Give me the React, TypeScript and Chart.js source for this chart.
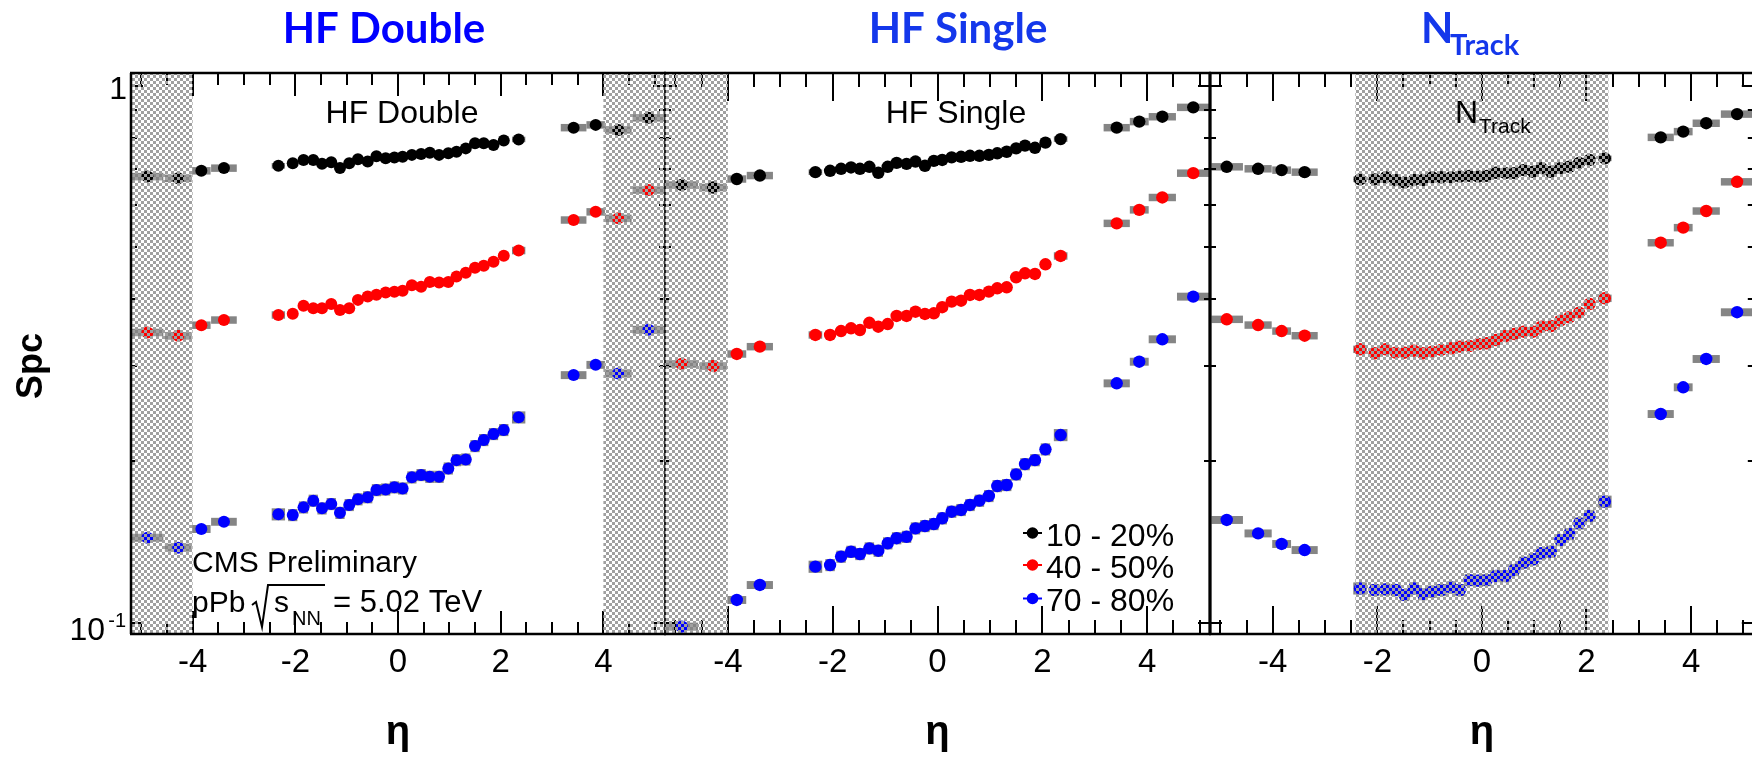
import React, { useEffect, useRef } from 'react';
import { Chart, registerables } from 'chart.js';

Chart.register(...registerables);

// ---------------- data ----------------
const CENTRAL_ETA = [-2.33, -2.05, -1.84, -1.65, -1.48, -1.30, -1.13, -0.95, -0.78, -0.59, -0.42, -0.24, -0.07, 0.09, 0.27, 0.45, 0.62, 0.80, 0.98, 1.14, 1.32, 1.50, 1.67, 1.86, 2.06, 2.35];
const OUTER_ETA = [-4.88, -4.28, -3.83, -3.39, 3.42, 3.85, 4.29, 4.88];
const CENTRAL_BIN_HALF_WIDTH = [0.13, 0.09, 0.09, 0.09, 0.09, 0.09, 0.09, 0.09, 0.09, 0.09, 0.09, 0.09, 0.09, 0.09, 0.09, 0.09, 0.09, 0.09, 0.09, 0.09, 0.09, 0.09, 0.09, 0.09, 0.09, 0.13];
const OUTER_BIN_HALF_WIDTH = [0.31, 0.26, 0.18, 0.25, 0.25, 0.18, 0.26, 0.31];

const CENTRALITY_LABELS = ['10 - 20%', '40 - 50%', '70 - 80%'];
const SYS_CENTRAL = [0.012, 0.016, 0.026];
const SYS_OUTER = [0.016, 0.016, 0.017];

const X_TICK_VALUES = [-4, -2, 0, 2, 4];
const X_FRAME_TICKS = [-5, -4.5, -4, -3.5, -3, -2.5, -2, -1.5, -1, -0.5, 0, 0.5, 1, 1.5, 2, 2.5, 3, 3.5, 4, 4.5, 5];
const Y_TICK_VALUES = [0.1, 1];
const Y_FRAME_TICKS = [0.1, 0.2, 0.3, 0.4, 0.5, 0.6, 0.7, 0.8, 0.9, 1];

// HF Double
const HFD_10_20_C = [0.709, 0.717, 0.727, 0.727, 0.715, 0.720, 0.702, 0.717, 0.729, 0.722, 0.739, 0.732, 0.735, 0.737, 0.743, 0.746, 0.750, 0.743, 0.748, 0.753, 0.764, 0.781, 0.781, 0.775, 0.790, 0.794];
const HFD_10_20_O = [0.677, 0.672, 0.694, 0.702, 0.835, 0.845, 0.827, 0.871];
const HFD_40_50_C = [0.374, 0.376, 0.389, 0.385, 0.385, 0.392, 0.382, 0.385, 0.399, 0.405, 0.408, 0.412, 0.413, 0.415, 0.425, 0.422, 0.431, 0.430, 0.431, 0.441, 0.448, 0.458, 0.462, 0.470, 0.482, 0.493];
const HFD_40_50_O = [0.347, 0.342, 0.358, 0.366, 0.562, 0.582, 0.566, 0.639];
const HFD_70_80_C = [0.1591, 0.1586, 0.1639, 0.1687, 0.1632, 0.1663, 0.1601, 0.1656, 0.1697, 0.1712, 0.1765, 0.1770, 0.1786, 0.1778, 0.1864, 0.1883, 0.1869, 0.1869, 0.1937, 0.2007, 0.2013, 0.2132, 0.2188, 0.2245, 0.2284, 0.2411];
const HFD_70_80_O = [0.1439, 0.1379, 0.1494, 0.1541, 0.289, 0.302, 0.291, 0.351];

// HF Single
const HFS_10_20_C = [0.690, 0.694, 0.700, 0.704, 0.700, 0.706, 0.688, 0.706, 0.718, 0.715, 0.722, 0.709, 0.724, 0.727, 0.735, 0.737, 0.740, 0.740, 0.743, 0.748, 0.753, 0.764, 0.773, 0.766, 0.783, 0.795];
const HFS_10_20_O = [0.653, 0.646, 0.670, 0.680, 0.835, 0.857, 0.875, 0.911];
const HFS_40_50_C = [0.3433, 0.3433, 0.3491, 0.3532, 0.3506, 0.3617, 0.3556, 0.3597, 0.3724, 0.3724, 0.3793, 0.3756, 0.3767, 0.3866, 0.3960, 0.3976, 0.4075, 0.4075, 0.4133, 0.4193, 0.4211, 0.4396, 0.4472, 0.4459, 0.4648, 0.4817];
const HFS_40_50_O = [0.3031, 0.3005, 0.3164, 0.3265, 0.554, 0.587, 0.619, 0.687];
const HFS_70_80_C = [0.1271, 0.1280, 0.1327, 0.1355, 0.1342, 0.1375, 0.1361, 0.1405, 0.1436, 0.1445, 0.1498, 0.1513, 0.1526, 0.1564, 0.1609, 0.1621, 0.1656, 0.1687, 0.1721, 0.1796, 0.1804, 0.1888, 0.1973, 0.2007, 0.2102, 0.2235];
const HFS_70_80_O = [0.0983, null, 0.1102, 0.1175, 0.2790, 0.3061, 0.3370, 0.4046];

// N_Track
const NTR_10_20_C = [0.669, 0.669, 0.675, 0.667, 0.660, 0.667, 0.667, 0.675, 0.675, 0.675, 0.677, 0.679, 0.677, 0.679, 0.688, 0.687, 0.687, 0.696, 0.691, 0.702, 0.691, 0.702, 0.706, 0.718, 0.727, 0.732];
const NTR_10_20_O = [0.706, 0.700, 0.696, 0.690, 0.801, 0.821, 0.851, 0.885];
const NTR_40_50_C = [0.3228, 0.3173, 0.3228, 0.3181, 0.3181, 0.3209, 0.3173, 0.3195, 0.3219, 0.3242, 0.3265, 0.3274, 0.3302, 0.3312, 0.3359, 0.3417, 0.3447, 0.3481, 0.3481, 0.3556, 0.3567, 0.3649, 0.3703, 0.3776, 0.3920, 0.4017];
const NTR_40_50_O = [0.3671, 0.3582, 0.3491, 0.3422, 0.5098, 0.5439, 0.5841, 0.662];
const NTR_70_80_C = [0.1158, 0.1150, 0.1153, 0.1150, 0.1126, 0.1158, 0.1130, 0.1142, 0.1150, 0.1163, 0.1150, 0.1200, 0.1197, 0.1200, 0.1221, 0.1221, 0.1253, 0.1293, 0.1312, 0.1346, 0.1355, 0.1425, 0.1462, 0.1530, 0.1580, 0.1680];
const NTR_70_80_O = [0.1553, 0.1466, 0.1401, 0.1365, 0.2446, 0.2743, 0.3097, 0.3784];

// ---------------- styling / layout ----------------
const CW = 1760;
const CH = 757;
const FRAME_TOP = 73;
const X_AXIS_HEIGHT = 123;
const Y_MIN = 0.09523;
const Y_MAX = 1.0555;
const SERIES_COLORS = ['#000000', '#ff0000', '#0000ff'];
const SYS_BOX_COLOR = '#858585';
const HATCH_COLOR = 'rgb(160,160,160)';
const ROOT_FONT = '"Liberation Sans", Arial, sans-serif';
const TITLE_FONT = 'Lato, "Liberation Sans", sans-serif';

Chart.defaults.font.family = ROOT_FONT;
Chart.defaults.color = '#000';

function buildPoints(central, outer, sysC, sysO) {
  const pts = [];
  OUTER_ETA.forEach((eta, i) => {
    if (outer[i] != null) pts.push({ x: eta, y: outer[i], hw: OUTER_BIN_HALF_WIDTH[i], sys: sysO });
  });
  CENTRAL_ETA.forEach((eta, i) => {
    pts.push({ x: eta, y: central[i], hw: CENTRAL_BIN_HALF_WIDTH[i], sys: sysC });
  });
  return pts;
}

function text(ctx, s, x, y, font, color = '#000', align = 'left') {
  ctx.font = font;
  ctx.fillStyle = color;
  ctx.textAlign = align;
  ctx.textBaseline = 'alphabetic';
  ctx.fillText(s, x, y);
}

let hatchCanvas = null;
function getHatch(ctx) {
  if (!hatchCanvas) {
    hatchCanvas = document.createElement('canvas');
    hatchCanvas.width = 6;
    hatchCanvas.height = 6;
    const g = hatchCanvas.getContext('2d');
    g.fillStyle = HATCH_COLOR;
    g.fillRect(0, 0, 3, 3);
    g.fillRect(3, 3, 3, 3);
  }
  return ctx.createPattern(hatchCanvas, 'repeat');
}

function drawPanel1Text(ctx, chart) {
  const ys = chart.scales.y;
  const a = chart.chartArea;
  const y1 = ys.getPixelForValue(Y_TICK_VALUES[1]);
  const y01 = ys.getPixelForValue(Y_TICK_VALUES[0]);
  text(ctx, '1', a.left - 4, y1 + 13, `32px ${ROOT_FONT}`, '#000', 'right');
  text(ctx, '10', a.left - 26, y01 + 17, `32px ${ROOT_FONT}`, '#000', 'right');
  text(ctx, '-1', a.left - 5, y01 + 4, `20px ${ROOT_FONT}`, '#000', 'right');

  text(ctx, 'HF Double', 384, 43, `bold 42px ${TITLE_FONT}`, '#0000ff', 'center');
  text(ctx, 'HF Double', 402, 123, `32px ${ROOT_FONT}`, '#000', 'center');
  text(ctx, 'CMS Preliminary', 192, 572, `30px ${ROOT_FONT}`);
  text(ctx, 'pPb', 192, 612, `30px ${ROOT_FONT}`);
  ctx.save();
  ctx.strokeStyle = '#000';
  ctx.lineWidth = 2;
  ctx.beginPath();
  ctx.moveTo(252, 605);
  ctx.lineTo(256, 602);
  ctx.lineTo(262, 627);
  ctx.lineTo(268, 585);
  ctx.lineTo(325, 585);
  ctx.stroke();
  ctx.restore();
  text(ctx, 's', 274, 612, `30px ${ROOT_FONT}`);
  text(ctx, 'NN', 292, 625, `20px ${ROOT_FONT}`);
  text(ctx, '= 5.02 TeV', 333, 612, `31px ${ROOT_FONT}`);
  ctx.save();
  ctx.translate(42, 366);
  ctx.rotate(-Math.PI / 2);
  text(ctx, 'Spc', 0, 0, `bold 36px ${ROOT_FONT}`, '#000', 'center');
  ctx.restore();
}

function drawPanel2Text(ctx) {
  text(ctx, 'HF Single', 958, 43, `bold 42px ${TITLE_FONT}`, 'rgb(20,55,235)', 'center');
  text(ctx, 'HF Single', 956, 123, `32px ${ROOT_FONT}`, '#000', 'center');
  const rows = [533, 565, 598.5];
  rows.forEach((cy, k) => {
    ctx.save();
    ctx.strokeStyle = SERIES_COLORS[k];
    ctx.fillStyle = SERIES_COLORS[k];
    ctx.lineWidth = 2;
    ctx.beginPath();
    ctx.moveTo(1023, cy);
    ctx.lineTo(1042, cy);
    ctx.stroke();
    ctx.beginPath();
    ctx.arc(1032.5, cy, 5.8, 0, Math.PI * 2);
    ctx.fill();
    ctx.restore();
    text(ctx, CENTRALITY_LABELS[k], 1046, cy + 12.5, `32px ${ROOT_FONT}`);
  });
}

function drawPanel3Text(ctx) {
  text(ctx, 'N', 1421, 43, `bold 42px ${TITLE_FONT}`, 'rgb(20,55,235)');
  text(ctx, 'Track', 1450, 55, `bold 29px ${TITLE_FONT}`, 'rgb(20,55,235)');
  text(ctx, 'N', 1455, 123, `32px ${ROOT_FONT}`);
  text(ctx, 'Track', 1479, 133, `21px ${ROOT_FONT}`);
}

const PANELS = [
  {
    key: 'hfd', padLeft: 0, padRight: CW - 665, yLabels: true, markerRadius: 6,
    tickMajor: 23, tickMinor: 12,
    bands: [[-5.2, -4.0], [4.0, 5.2]],
    central: [HFD_10_20_C, HFD_40_50_C, HFD_70_80_C],
    outer: [HFD_10_20_O, HFD_40_50_O, HFD_70_80_O],
    frames: { left: { w: 2.5, under: false }, right: { w: 1.3, under: true } },
    drawText: drawPanel1Text,
  },
  {
    key: 'hfs', padLeft: 665, padRight: CW - 1210, yLabels: false, markerRadius: 6.2,
    tickMajor: 28, tickMinor: 14,
    bands: [[-5.2, -4.0]],
    central: [HFS_10_20_C, HFS_40_50_C, HFS_70_80_C],
    outer: [HFS_10_20_O, HFS_40_50_O, HFS_70_80_O],
    frames: { left: { w: 1.3, under: true }, right: { w: 2.5, under: false } },
    drawText: drawPanel2Text,
  },
  {
    key: 'ntr', padLeft: 1210, padRight: CW - 1754, yLabels: false, markerRadius: 6.2,
    tickMajor: 28, tickMinor: 14,
    bands: [[-2.42, 2.42]],
    central: [NTR_10_20_C, NTR_40_50_C, NTR_70_80_C],
    outer: [NTR_10_20_O, NTR_40_50_O, NTR_70_80_O],
    frames: { left: { w: 3, under: false }, right: { w: 2.5, under: false } },
    drawText: drawPanel3Text,
  },
];

function line(ctx, x1, y1, x2, y2) {
  ctx.beginPath();
  ctx.moveTo(x1, y1);
  ctx.lineTo(x2, y2);
  ctx.stroke();
}

function panelPlugin(p) {
  return {
    id: 'decor_' + p.key,
    beforeDatasetsDraw(chart) {
      const { ctx, chartArea: a, scales } = chart;
      const xs = scales.x;
      const ys = scales.y;
      ctx.save();
      ctx.beginPath();
      ctx.rect(a.left, a.top, a.right - a.left, a.bottom - a.top);
      ctx.clip();
      ctx.fillStyle = SYS_BOX_COLOR;
      chart.data.datasets.forEach((ds) => {
        ds.data.forEach((pt) => {
          const x1 = xs.getPixelForValue(pt.x - pt.hw);
          const x2 = xs.getPixelForValue(pt.x + pt.hw);
          const y1 = ys.getPixelForValue(pt.y * (1 + pt.sys));
          const y2 = ys.getPixelForValue(pt.y * (1 - pt.sys));
          ctx.fillRect(x1, y1, x2 - x1, y2 - y1);
        });
      });
      ctx.restore();
    },
    afterDatasetsDraw(chart) {
      const { ctx, chartArea: a, scales } = chart;
      const xs = scales.x;
      const ys = scales.y;
      ctx.save();
      ctx.strokeStyle = '#000';
      const vFrame = (side) => {
        const f = p.frames[side];
        ctx.lineWidth = f.w;
        const xx = side === 'left' ? a.left : a.right;
        line(ctx, xx, a.top, xx, a.bottom);
      };
      ['left', 'right'].forEach((s) => { if (p.frames[s].under) vFrame(s); });
      ctx.lineWidth = 2;
      X_FRAME_TICKS.forEach((v) => {
        const px = Math.round(xs.getPixelForValue(v));
        const L = v % 2 === 0 ? p.tickMajor : p.tickMinor;
        line(ctx, px, a.bottom, px, a.bottom - L);
        line(ctx, px, a.top, px, a.top + L);
      });
      Y_FRAME_TICKS.forEach((v) => {
        const py = Math.round(ys.getPixelForValue(v));
        const L = v === 0.1 || v === 1 ? 12 : 6;
        line(ctx, a.left, py, a.left + L, py);
        line(ctx, a.right, py, a.right - L, py);
      });
      ctx.save();
      ctx.beginPath();
      ctx.rect(a.left, a.top, a.right - a.left, a.bottom - a.top);
      ctx.clip();
      ctx.fillStyle = getHatch(ctx);
      p.bands.forEach(([b0, b1]) => {
        const x1 = xs.getPixelForValue(b0);
        const x2 = xs.getPixelForValue(b1);
        ctx.fillRect(x1, a.top, x2 - x1, a.bottom - a.top);
      });
      ctx.restore();
      ctx.strokeStyle = '#000';
      ctx.lineWidth = 2.5;
      line(ctx, a.left - 1, a.top, a.right + 1, a.top);
      line(ctx, a.left - 1, a.bottom, a.right + 1, a.bottom);
      ['left', 'right'].forEach((s) => { if (!p.frames[s].under) vFrame(s); });
      p.drawText(ctx, chart);
      ctx.restore();
    },
  };
}

function makeConfig(p) {
  const datasets = SERIES_COLORS.map((color, k) => ({
    label: CENTRALITY_LABELS[k],
    data: buildPoints(p.central[k], p.outer[k], SYS_CENTRAL[k], SYS_OUTER[k]),
    backgroundColor: color,
    borderColor: color,
    pointRadius: p.markerRadius,
    pointHoverRadius: p.markerRadius,
    pointBorderWidth: 0,
    showLine: false,
  }));
  return {
    type: 'scatter',
    data: { datasets },
    options: {
      animation: false,
      responsive: false,
      maintainAspectRatio: false,
      devicePixelRatio: 1,
      events: [],
      layout: { padding: { left: p.padLeft, right: p.padRight, top: FRAME_TOP, bottom: 0 } },
      plugins: { legend: { display: false }, tooltip: { enabled: false } },
      scales: {
        x: {
          type: 'linear',
          min: -5.2,
          max: 5.2,
          grid: { display: false, drawTicks: false },
          border: { display: false },
          ticks: {
            color: '#000',
            font: { size: 33 },
            padding: 9,
            autoSkip: false,
            maxRotation: 0,
            callback: (v) => String(v),
          },
          title: {
            display: true,
            text: '\u03B7',
            color: '#000',
            font: { size: 40, weight: 'bold' },
            padding: { top: 0, bottom: 0 },
          },
          afterBuildTicks: (s) => { s.ticks = X_TICK_VALUES.map((v) => ({ value: v })); },
          afterFit: (s) => { s.height = X_AXIS_HEIGHT; },
        },
        y: {
          type: 'logarithmic',
          min: Y_MIN,
          max: Y_MAX,
          display: p.yLabels,
          grid: { display: false, drawTicks: false },
          border: { display: false },
          ticks: { display: false },
          afterBuildTicks: (s) => { s.ticks = Y_TICK_VALUES.map((v) => ({ value: v })); },
          afterFit: (s) => { s.width = p.yLabels ? 131 : 0; },
        },
      },
    },
    plugins: [panelPlugin(p)],
  };
}

export default function App() {
  const r0 = useRef(null);
  const r1 = useRef(null);
  const r2 = useRef(null);
  const refs = [r0, r1, r2];
  useEffect(() => {
    const charts = PANELS.map((p, i) => new Chart(refs[i].current, makeConfig(p)));
    return () => charts.forEach((c) => c.destroy());
  }, []);
  return (
    <div style={{ position: 'absolute', left: 0, top: 0, width: 1752, height: 757, overflow: 'hidden', background: '#fff' }}>
      {refs.map((r, i) => (
        <canvas
          key={i}
          ref={r}
          width={CW}
          height={CH}
          style={{ position: 'absolute', left: 0, top: 0, width: CW, height: CH }}
        />
      ))}
    </div>
  );
}
